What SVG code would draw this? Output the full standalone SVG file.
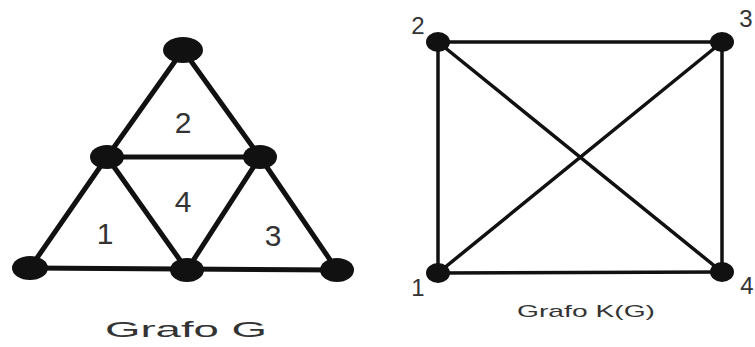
<svg xmlns="http://www.w3.org/2000/svg" width="755" height="347" viewBox="0 0 755 347">
<style>
.eg{stroke:#111;stroke-width:5;stroke-linecap:round;fill:none}
.ek{stroke:#111;stroke-width:3.5;stroke-linecap:round;fill:none}
.n{fill:#111}
.t{font-family:"Liberation Sans",Arial,sans-serif;fill:#333}
</style>
<rect width="755" height="347" fill="#fff"/>
<g id="connectors">
<g id="g-edges">
<line class="eg" x1="183" y1="50" x2="107" y2="157"/>
<line class="eg" x1="183" y1="50" x2="260" y2="157"/>
<line class="eg" x1="107" y1="157" x2="260" y2="157"/>
<line class="eg" x1="107" y1="157" x2="30" y2="268"/>
<line class="eg" x1="107" y1="157" x2="187" y2="270"/>
<line class="eg" x1="260" y1="157" x2="187" y2="270"/>
<line class="eg" x1="260" y1="157" x2="337" y2="270"/>
<line class="eg" x1="30" y1="268" x2="337" y2="270"/>
</g>
<g id="k-edges">
<line class="ek" x1="438" y1="42" x2="722" y2="42"/>
<line class="ek" x1="438" y1="42" x2="438" y2="273"/>
<line class="ek" x1="722" y1="42" x2="722" y2="272"/>
<line class="ek" x1="438" y1="273" x2="722" y2="272"/>
<line class="ek" x1="438" y1="42" x2="722" y2="272"/>
<line class="ek" x1="722" y1="42" x2="438" y2="273"/>
</g>
</g>
<g id="g-top"><ellipse class="n" cx="183" cy="50" rx="20" ry="13"/></g>
<g id="g-midleft"><ellipse class="n" cx="107" cy="157" rx="17" ry="12"/></g>
<g id="g-midright"><ellipse class="n" cx="260" cy="157" rx="17" ry="12"/></g>
<g id="g-botleft"><ellipse class="n" cx="30" cy="268" rx="18" ry="12"/></g>
<g id="g-botmid"><ellipse class="n" cx="187" cy="270" rx="17" ry="12"/></g>
<g id="g-botright"><ellipse class="n" cx="337" cy="270" rx="17" ry="12"/></g>
<g id="face-labels" class="t" font-size="30" text-anchor="middle">
<text x="183" y="133">2</text>
<text x="183" y="212">4</text>
<text x="105" y="244">1</text>
<text x="273" y="246">3</text>
</g>
<g id="k-1"><ellipse class="n" cx="438" cy="273" rx="12" ry="10"/><text class="t" x="418" y="296" font-size="24" text-anchor="middle">1</text></g>
<g id="k-2"><ellipse class="n" cx="438" cy="42" rx="12" ry="10"/><text class="t" x="418" y="34" font-size="24" text-anchor="middle">2</text></g>
<g id="k-3"><ellipse class="n" cx="722" cy="42" rx="12" ry="10"/><text class="t" x="746" y="27" font-size="24" text-anchor="middle">3</text></g>
<g id="k-4"><ellipse class="n" cx="722" cy="272" rx="12" ry="10"/><text class="t" x="747" y="294" font-size="24" text-anchor="middle">4</text></g>
<text class="t" x="105" y="337" font-size="22" textLength="162" lengthAdjust="spacingAndGlyphs">Grafo G</text>
<text class="t" x="517" y="317" font-size="17" textLength="138" lengthAdjust="spacingAndGlyphs">Grafo K(G)</text>
</svg>
